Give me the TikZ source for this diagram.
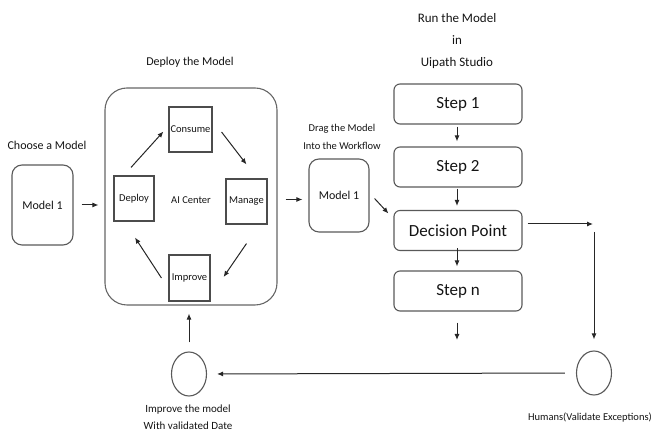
\documentclass[tikz,border=0pt]{standalone}
\usepackage{fontspec}
\setmainfont{Carlito}
\usetikzlibrary{arrows.meta,shapes.geometric}

\begin{document}
\begin{tikzpicture}[x=1pt,y=1pt,
    every node/.style={text=black!92},
    modelbox/.style={draw=black!65, line width=1.1pt, rounded corners=10pt,
      minimum width=61pt, minimum height=80pt, font=\fontsize{12}{14}\selectfont},
    taskbox/.style={draw=black!70, line width=1.1pt, inner sep=1pt,
      minimum width=41pt, minimum height=45pt, font=\fontsize{10.5}{12}\selectfont},
    stepbox/.style={draw=black!65, line width=1.1pt, rounded corners=6pt,
      minimum width=128pt, minimum height=40pt, font=\fontsize{17}{20}\selectfont},
    hub/.style={draw=black!65, line width=1.1pt, ellipse, inner sep=0pt,
      minimum width=35pt, minimum height=44pt},
    arr/.style={-{Latex[length=6pt,width=5pt]}, line width=1pt, black!85}]
  \useasboundingbox (0,0) rectangle (654,433);

  % choose a model
  \node (choose) at (47,288) [font=\fontsize{12}{14}\selectfont] {Choose a Model};
  \node (m1) at (42.5,228) [modelbox] {Model 1};

  % AI Center cycle
  \node (deploytitle) at (190,371) [font=\fontsize{12}{14}\selectfont] {Deploy the Model};
  \node (big) at (191,236.5) [draw=black!60, line width=1.1pt, rounded corners=22pt,
    minimum width=172pt, minimum height=217pt] {};
  \node (aic) at (191,233) [font=\fontsize{10.5}{12}\selectfont] {AI Center};
  \node (deploy) at (134,234.5) [taskbox, minimum width=40pt] {Deploy};
  \node (consume) at (190.5,303.5) [taskbox, minimum width=43pt] {Consume};
  \node (manage) at (246.5,231.5) [taskbox] {Manage};
  \node (improve) at (189.5,155) [taskbox, minimum height=46pt] {Improve};

  \draw[arr] ([xshift=-3pt,yshift=8pt]deploy.north) -- ([xshift=-5pt,yshift=-2pt]consume.west);
  \draw[arr] ([xshift=9pt,yshift=-2.5pt]consume.east) -- ([yshift=14pt]manage.north);
  \draw[arr] ([yshift=-19pt]manage.south) -- ([xshift=13pt,yshift=1pt]improve.east);
  \draw[arr] ([xshift=-7pt]improve.west) -- ([xshift=1pt,yshift=-16pt]deploy.south);

  \draw[arr, shorten <=8pt, shorten >=6pt] (m1.east) -- (m1.east -| big.west);

  % drag into the workflow
  \node (drag) at (342,296) [align=center, font=\fontsize{10.5}{18}\selectfont]
    {Drag the Model\\Into the Workflow};
  \node (m2) at (339,237.5) [modelbox, minimum width=60pt, minimum height=73pt] {Model 1};
  \draw[arr, shorten <=8pt, shorten >=6pt] ([yshift=-4pt]big.east |- m2.west) -- ([yshift=-4pt]m2.west);

  % workflow in studio
  \node (run) at (457,392) [align=center, font=\fontsize{13}{22}\selectfont]
    {Run the Model\\in\\Uipath Studio};
  \node (s1) at (458,329) [stepbox] {Step 1};
  \node (s2) at (458,266) [stepbox] {Step 2};
  \node (dec) at (458,202.5) [stepbox] {Decision Point};
  \node (sn) at (458,142) [stepbox] {Step n};
  \coordinate (endn) at (457,93);
  \coordinate (turn) at (594,209);

  \draw[arr, shorten <=2pt, shorten >=5pt] ([xshift=-1pt]s1.south) -- ([xshift=-1pt]s2.north);
  \draw[arr, shorten <=1pt, shorten >=4pt] ([xshift=-1pt]s2.south) -- ([xshift=-1pt]dec.north);
  \draw[arr, shorten <=-3pt, shorten >=4pt] ([xshift=-1pt]dec.south) -- ([xshift=-1pt]sn.north);
  \draw[arr, shorten <=11pt] ([xshift=-1pt]sn.south) -- (endn);
  \draw[arr] ([xshift=5pt,yshift=-3pt]m2.east) -- ([xshift=-5pt,yshift=17pt]dec.west);

  % exceptions loop back
  \node (hum) at (594,60) [hub] {};
  \node (humtext) at (590,15) [font=\fontsize{10.5}{12}\selectfont] {Humans(Validate Exceptions)};
  \node (fix) at (189,59) [hub] {};
  \node (fixtext) at (188,15.5) [align=center, font=\fontsize{11}{17}\selectfont]
    {Improve the model\\With validated Date};

  \draw[arr, shorten <=5pt, shorten >=1pt] (dec.east |- turn) -- (turn);
  \draw[arr, shorten <=8pt, shorten >=11pt] (turn) -- (hum.north);
  \draw[arr, shorten <=11pt, shorten >=10pt] (hum.west) -- (fix.east);
  \draw[arr, shorten <=9pt, shorten >=8pt] (fix.north) -- (fix.north |- big.south);
\end{tikzpicture}
\end{document}
